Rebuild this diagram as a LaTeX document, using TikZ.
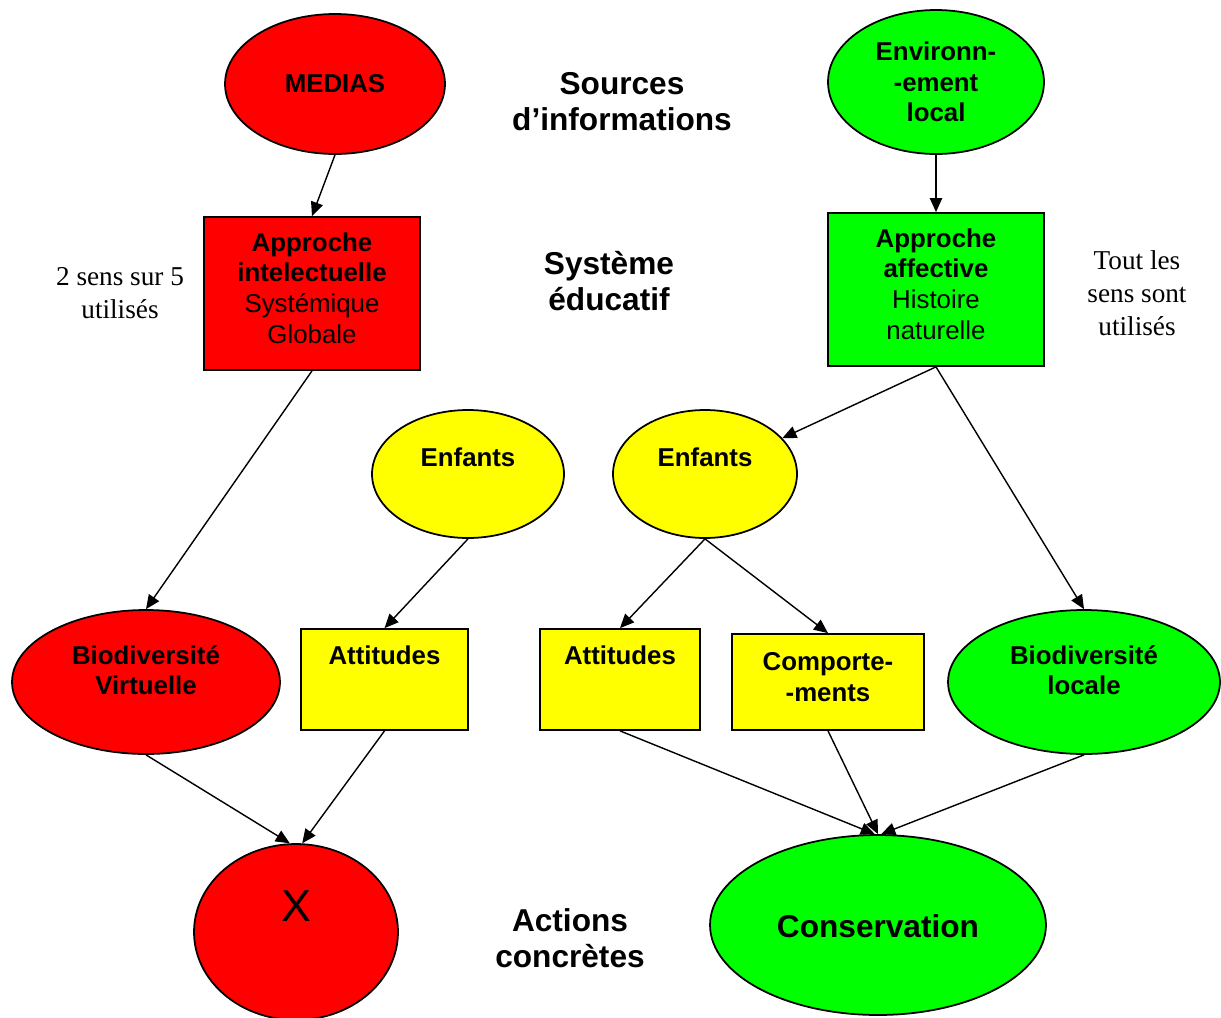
\documentclass[tikz,border=0pt]{standalone}
\usepackage{fontspec}
\setmainfont{Liberation Serif}
\setsansfont{Liberation Sans}
\usetikzlibrary{shapes.geometric,arrows.meta}
\definecolor{rouge}{RGB}{255,0,0}
\definecolor{vert}{RGB}{0,255,0}
\definecolor{jaune}{RGB}{255,255,0}
\begin{document}
\begin{tikzpicture}[x=0.02cm,y=-0.02cm,
  oval/.style={ellipse,draw=black,line width=1pt,inner sep=0pt},
  boite/.style={rectangle,draw=black,line width=1pt,inner sep=0pt},
  txt/.style={font=\sffamily\fontsize{14.7}{17.4}\selectfont,align=center,inner sep=0pt},
  titre/.style={font=\sffamily\bfseries\fontsize{18}{20.4}\selectfont,align=center,inner sep=0pt},
  note/.style={font=\rmfamily\fontsize{15.5}{18.6}\selectfont,align=center,inner sep=0pt},
  fleche/.style={line width=0.8pt,-{Triangle[length=8pt,width=7pt]}}]
\useasboundingbox (0,0) rectangle (1221,1018);

% sources
\node[oval,fill=rouge,minimum width=4.4cm,minimum height=2.8cm,txt] (medias) at (335,84) {\bfseries MEDIAS};
\node[oval,fill=vert,minimum width=4.32cm,minimum height=2.88cm,txt] (env) at (936,82) {\bfseries Environn-\\\bfseries -ement\\\bfseries local};

% approches
\node[boite,fill=rouge,minimum width=4.32cm,minimum height=3.06cm] (intel) at (312,293.5) {};
\node[txt] (intel-t) at (312,288) {\bfseries Approche\\\bfseries intelectuelle\\Systémique\\Globale};
\node[boite,fill=vert,minimum width=4.32cm,minimum height=3.06cm] (aff) at (936,289.5) {};
\node[txt] (aff-t) at (936,284) {\bfseries Approche\\\bfseries affective\\Histoire\\naturelle};

% enfants
\node[oval,fill=jaune,minimum width=3.84cm,minimum height=2.56cm] (enfL) at (468,474) {};
\node[txt] (enfL-t) at (468,457) {\bfseries Enfants};
\node[oval,fill=jaune,minimum width=3.68cm,minimum height=2.56cm] (enfR) at (705,474) {};
\node[txt] (enfR-t) at (705,457) {\bfseries Enfants};

% biodiversite
\node[oval,fill=rouge,minimum width=5.36cm,minimum height=2.88cm] (bvirt) at (146,682) {};
\node[txt] (bvirt-t) at (146,670) {\bfseries Biodiversité\\\bfseries Virtuelle};
\node[oval,fill=vert,minimum width=5.44cm,minimum height=2.88cm] (bloc) at (1084,682) {};
\node[txt] (bloc-t) at (1084,670) {\bfseries Biodiversité\\\bfseries locale};

% attitudes et comportements
\node[boite,fill=jaune,minimum width=3.34cm,minimum height=2.02cm] (attL) at (384.5,679.5) {};
\node[txt] (attL-t) at (384.5,655) {\bfseries Attitudes};
\node[boite,fill=jaune,minimum width=3.2cm,minimum height=2.02cm] (attR) at (620,679.5) {};
\node[txt] (attR-t) at (620,655) {\bfseries Attitudes};
\node[boite,fill=jaune,minimum width=3.84cm,minimum height=1.92cm] (comp) at (828,682) {};
\node[txt] (comp-t) at (828,677) {\bfseries Comporte-\\\bfseries -ments};

% actions
\node[oval,fill=rouge,minimum width=4.08cm,minimum height=3.52cm] (X) at (296,932) {};
\node[font=\sffamily\fontsize{25.5}{28}\selectfont,inner sep=0pt] (X-t) at (296,906) {X};
\node[oval,fill=vert,minimum width=6.72cm,minimum height=3.6cm] (cons) at (878,925) {};
\node[titre] (cons-t) at (878,926) {Conservation};

% titres de niveaux
\node[titre] (sources) at (622,102) {Sources\\d’informations};
\node[titre] (systeme) at (609,281) {Système\\éducatif};
\node[titre] (actions) at (570,938) {Actions\\concrètes};

% notes
\node[note] (note1) at (120,293) {2 sens sur 5\\utilisés};
\node[note] (note2) at (1137,293) {Tout les\\sens sont\\utilisés};

% fleches
\draw[fleche] (medias.south) -- (intel.north);
\draw[fleche] (env.south) -- (aff.north);
\draw[fleche] (intel.south) -- (bvirt.north);
\draw[fleche] (aff.south) -- (enfR);
\draw[fleche] (aff.south) -- (bloc.north);
\draw[fleche] (enfL.south) -- (attL.north);
\draw[fleche] (enfR.south) -- (attR.north);
\draw[fleche] (enfR.south) -- (comp.north);
\draw[fleche] (bvirt.south) -- (X.94);
\draw[fleche] (attL.south) -- (X.86);
\draw[fleche] (attR.south) -- (cons.92.5);
\draw[fleche] (comp.south) -- (cons.90.5);
\draw[fleche] (bloc.south) -- (cons.88.5);
\end{tikzpicture}
\end{document}
